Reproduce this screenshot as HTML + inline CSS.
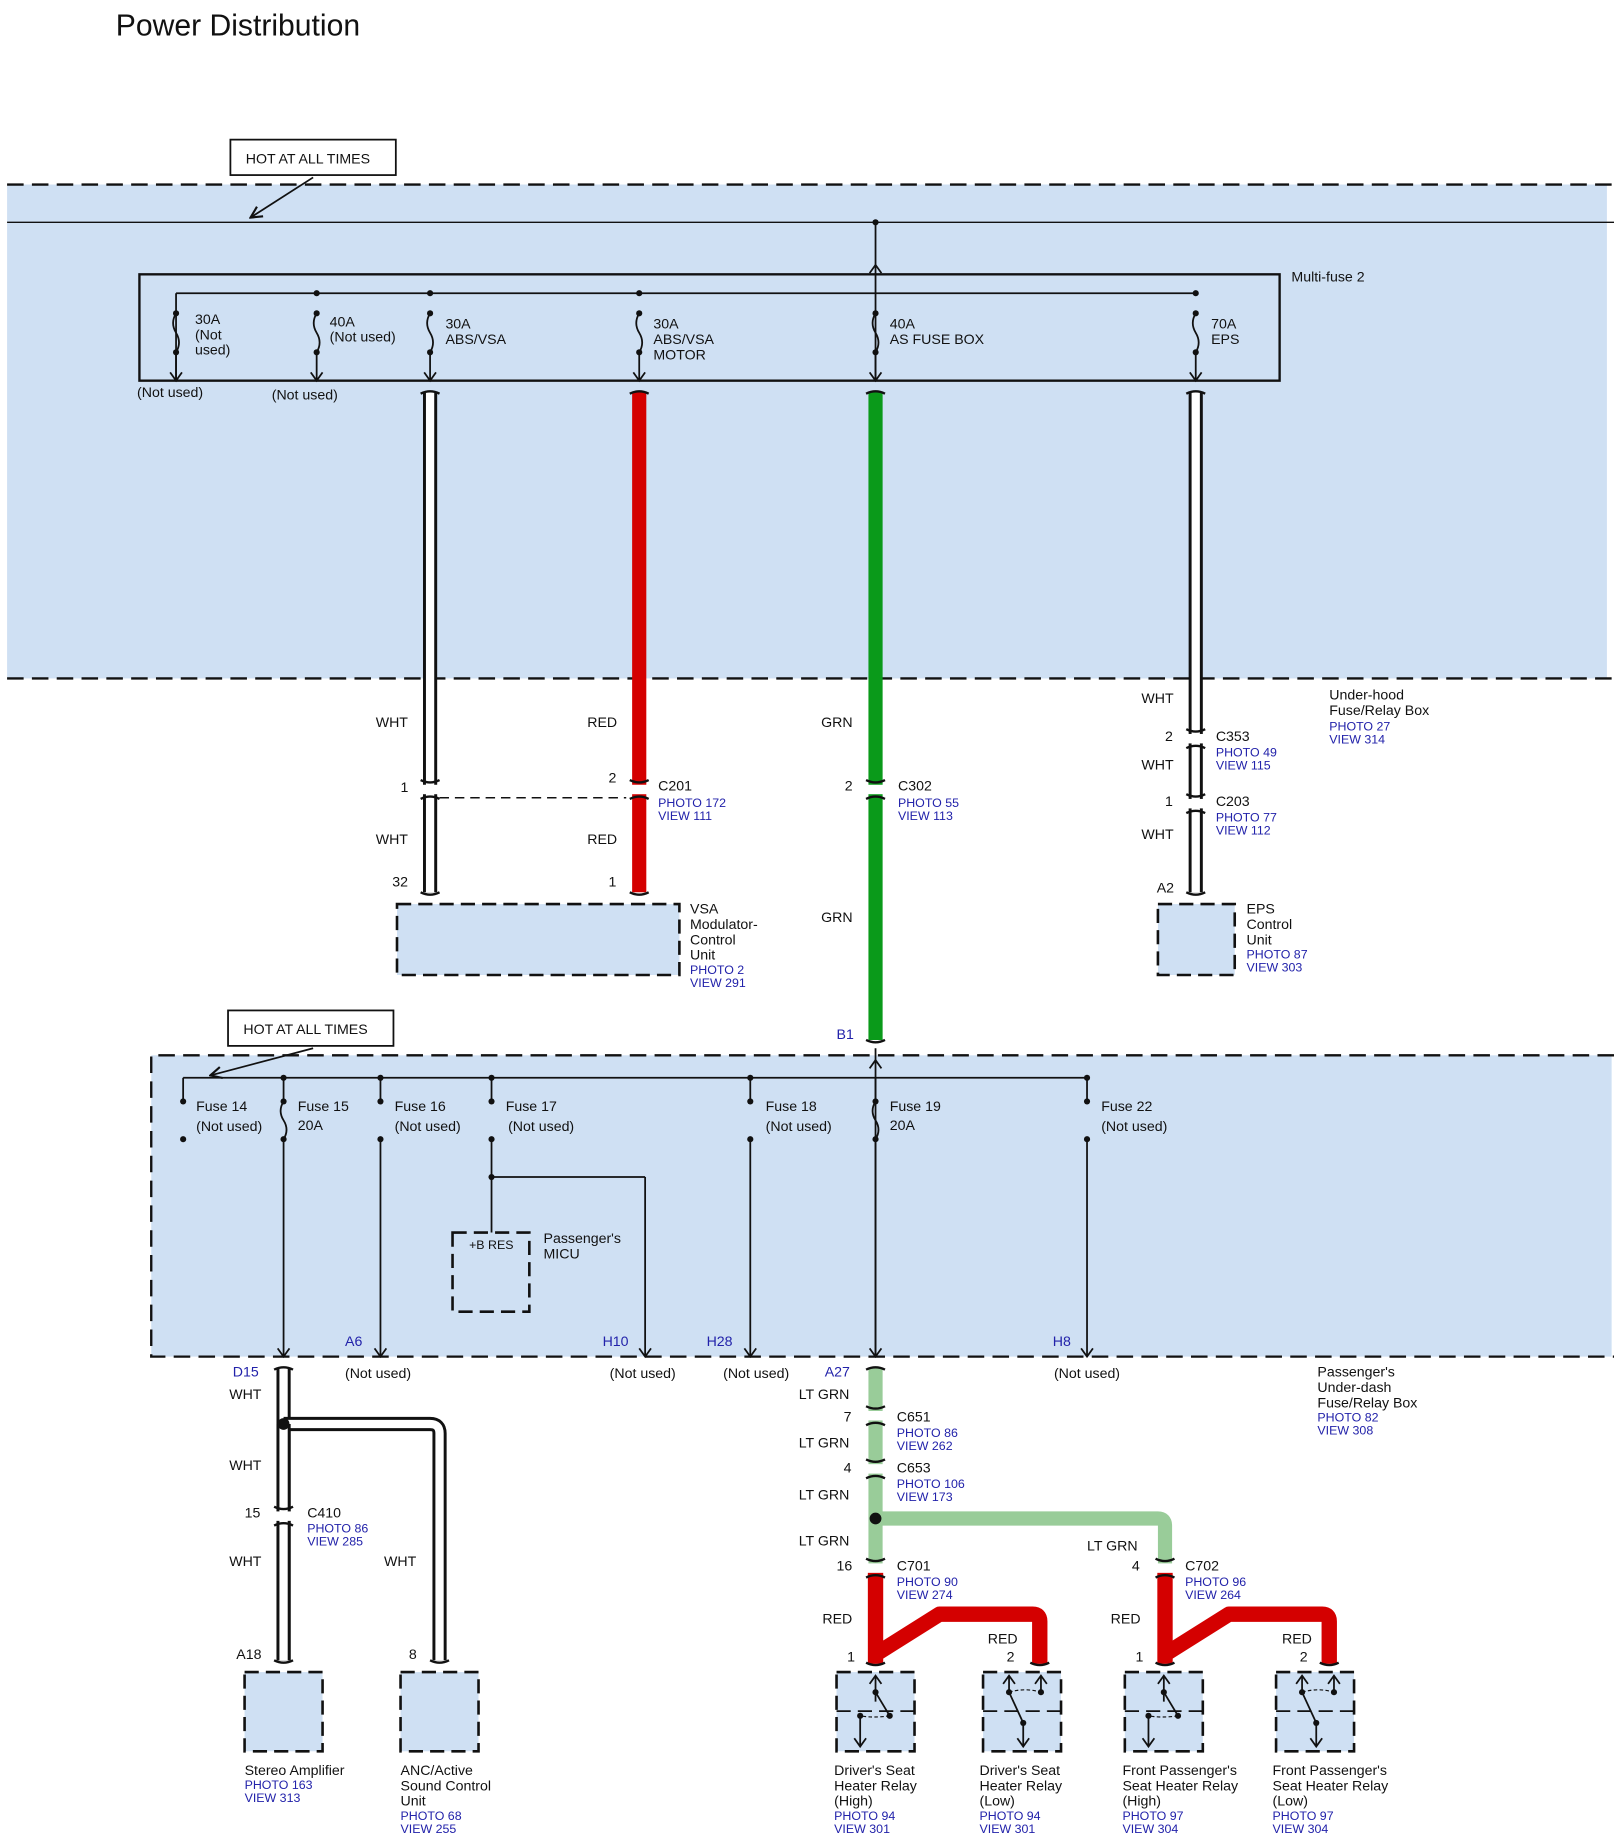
<!DOCTYPE html>
<html><head><meta charset="utf-8"><style>
html,body{margin:0;padding:0;background:#fff;}
svg{display:block;}
text{font-family:"Liberation Sans",Arial,sans-serif;font-size:12px;fill:#111;}
.b{fill:#2222aa;font-size:10.5px;}
.bl{fill:#2222aa;}
</style></head><body>
<svg id="s" width="1614" height="1846" viewBox="0 0 1366 1562" xmlns="http://www.w3.org/2000/svg">
<defs>
<marker id="ar" viewBox="0 0 10 10" refX="9" refY="5" markerWidth="8" markerHeight="8" orient="auto"><path d="M1 1 L9 5 L1 9" fill="none" stroke="#111" stroke-width="1.5"/></marker>
</defs>
<g id="bg">
<rect x="6" y="156" width="1354" height="418" fill="#cfe0f3"/>
<line x1="6" y1="156" x2="1366" y2="156" stroke="#111" stroke-width="2" stroke-dasharray="14,7"/>
<line x1="6" y1="574" x2="1366" y2="574" stroke="#111" stroke-width="2" stroke-dasharray="14,7"/>
<line x1="6" y1="188" x2="1366" y2="188" stroke="#111" stroke-width="1.2"/>
<rect x="128" y="893" width="1236" height="255" fill="#cfe0f3"/>
<path d="M1366 893 H128 V1148 H1366" fill="none" stroke="#111" stroke-width="2" stroke-dasharray="14,7"/>
<rect x="118" y="232" width="965" height="90" fill="none" stroke="#111" stroke-width="2"/>
</g>
<g id="g"></g>
<text x="98" y="30" style="font-size:25.5px">Power Distribution</text>
<rect x="195" y="118" width="140" height="30" fill="#fff" stroke="#111" stroke-width="1.5"/>
<text x="208" y="138">HOT AT ALL TIMES</text>
<rect x="193" y="855" width="140" height="30" fill="#fff" stroke="#111" stroke-width="1.5"/>
<text x="206" y="875">HOT AT ALL TIMES</text>
<text x="1093" y="238">Multi-fuse 2</text>
<text x="165" y="274">30A</text><text x="165" y="287">(Not</text><text x="165" y="300">used)</text>
<text x="279" y="276">40A</text><text x="279" y="289">(Not used)</text>
<text x="377" y="278">30A</text><text x="377" y="291">ABS/VSA</text>
<text x="553" y="278">30A</text><text x="553" y="291">ABS/VSA</text><text x="553" y="304">MOTOR</text>
<text x="753" y="278">40A</text><text x="753" y="291">AS FUSE BOX</text>
<text x="1025" y="278">70A</text><text x="1025" y="291">EPS</text>
<text x="116" y="336">(Not used)</text><text x="230" y="338">(Not used)</text>
<text x="318" y="615">WHT</text><text x="497" y="615">RED</text><text x="695" y="615">GRN</text>
<text x="966" y="595">WHT</text>
<text x="1125" y="592">Under-hood</text><text x="1125" y="605">Fuse/Relay Box</text>
<text x="1125" y="618" class="b">PHOTO 27</text><text x="1125" y="629" class="b">VIEW 314</text>
<text x="339" y="670">1</text><text x="515" y="662">2</text>
<text x="557" y="669">C201</text><text x="557" y="683" class="b">PHOTO 172</text><text x="557" y="694" class="b">VIEW 111</text>
<text x="715" y="669">2</text>
<text x="760" y="669">C302</text><text x="760" y="683" class="b">PHOTO 55</text><text x="760" y="694" class="b">VIEW 113</text>
<text x="986" y="627">2</text>
<text x="1029" y="627">C353</text><text x="1029" y="640" class="b">PHOTO 49</text><text x="1029" y="651" class="b">VIEW 115</text>
<text x="966" y="651">WHT</text>
<text x="986" y="682">1</text>
<text x="1029" y="682">C203</text><text x="1029" y="695" class="b">PHOTO 77</text><text x="1029" y="706" class="b">VIEW 112</text>
<text x="966" y="710">WHT</text>
<text x="318" y="714">WHT</text><text x="497" y="714">RED</text>
<text x="332" y="750">32</text><text x="515" y="750">1</text>
<text x="979" y="755">A2</text>
<text x="695" y="780">GRN</text>
<text x="584" y="773">VSA</text><text x="584" y="786">Modulator-</text><text x="584" y="799">Control</text><text x="584" y="812">Unit</text>
<text x="584" y="824" class="b">PHOTO 2</text><text x="584" y="835" class="b">VIEW 291</text>
<text x="1055" y="773">EPS</text><text x="1055" y="786">Control</text><text x="1055" y="799">Unit</text>
<text x="1055" y="811" class="b">PHOTO 87</text><text x="1055" y="822" class="b">VIEW 303</text>
<text x="708" y="879" class="bl">B1</text>
<text x="166" y="940">Fuse 14</text><text x="166" y="957">(Not used)</text>
<text x="252" y="940">Fuse 15</text><text x="252" y="956">20A</text>
<text x="334" y="940">Fuse 16</text><text x="334" y="957">(Not used)</text>
<text x="428" y="940">Fuse 17</text><text x="430" y="957">(Not used)</text>
<text x="648" y="940">Fuse 18</text><text x="648" y="957">(Not used)</text>
<text x="753" y="940">Fuse 19</text><text x="753" y="956">20A</text>
<text x="932" y="940">Fuse 22</text><text x="932" y="957">(Not used)</text>
<text x="397" y="1057" style="font-size:10.5px">+B RES</text>
<text x="460" y="1052">Passenger's</text><text x="460" y="1065">MICU</text>
<text x="292" y="1139" class="bl">A6</text><text x="510" y="1139" class="bl">H10</text><text x="598" y="1139" class="bl">H28</text><text x="891" y="1139" class="bl">H8</text>
<text x="197" y="1165" class="bl">D15</text><text x="698" y="1165" class="bl">A27</text>
<text x="292" y="1166">(Not used)</text><text x="516" y="1166">(Not used)</text><text x="612" y="1166">(Not used)</text><text x="892" y="1166">(Not used)</text>
<text x="1115" y="1165">Passenger's</text><text x="1115" y="1178">Under-dash</text><text x="1115" y="1191">Fuse/Relay Box</text>
<text x="1115" y="1203" class="b">PHOTO 82</text><text x="1115" y="1214" class="b">VIEW 308</text>
<text x="194" y="1184">WHT</text><text x="194" y="1244">WHT</text>
<text x="207" y="1284">15</text>
<text x="260" y="1284">C410</text><text x="260" y="1297" class="b">PHOTO 86</text><text x="260" y="1308" class="b">VIEW 285</text>
<text x="194" y="1325">WHT</text><text x="325" y="1325">WHT</text>
<text x="200" y="1404">A18</text><text x="346" y="1404">8</text>
<text x="676" y="1184">LT GRN</text>
<text x="714" y="1203">7</text>
<text x="759" y="1203">C651</text><text x="759" y="1216" class="b">PHOTO 86</text><text x="759" y="1227" class="b">VIEW 262</text>
<text x="676" y="1225">LT GRN</text>
<text x="714" y="1246">4</text>
<text x="759" y="1246">C653</text><text x="759" y="1259" class="b">PHOTO 106</text><text x="759" y="1270" class="b">VIEW 173</text>
<text x="676" y="1269">LT GRN</text>
<text x="676" y="1308">LT GRN</text><text x="920" y="1312">LT GRN</text>
<text x="708" y="1329">16</text>
<text x="759" y="1329">C701</text><text x="759" y="1342" class="b">PHOTO 90</text><text x="759" y="1353" class="b">VIEW 274</text>
<text x="958" y="1329">4</text>
<text x="1003" y="1329">C702</text><text x="1003" y="1342" class="b">PHOTO 96</text><text x="1003" y="1353" class="b">VIEW 264</text>
<text x="696" y="1374">RED</text><text x="940" y="1374">RED</text>
<text x="836" y="1391">RED</text><text x="1085" y="1391">RED</text>
<text x="717" y="1406">1</text><text x="852" y="1406">2</text><text x="961" y="1406">1</text><text x="1100" y="1406">2</text>
<text x="207" y="1502">Stereo Amplifier</text><text x="207" y="1514" class="b">PHOTO 163</text><text x="207" y="1525" class="b">VIEW 313</text>
<text x="339" y="1502">ANC/Active</text><text x="339" y="1515">Sound Control</text><text x="339" y="1528">Unit</text>
<text x="339" y="1540" class="b">PHOTO 68</text><text x="339" y="1551" class="b">VIEW 255</text>
<text x="706" y="1502">Driver's Seat</text><text x="706" y="1515">Heater Relay</text><text x="706" y="1528">(High)</text>
<text x="706" y="1540" class="b">PHOTO 94</text><text x="706" y="1551" class="b">VIEW 301</text>
<text x="829" y="1502">Driver's Seat</text><text x="829" y="1515">Heater Relay</text><text x="829" y="1528">(Low)</text>
<text x="829" y="1540" class="b">PHOTO 94</text><text x="829" y="1551" class="b">VIEW 301</text>
<text x="950" y="1502">Front Passenger's</text><text x="950" y="1515">Seat Heater Relay</text><text x="950" y="1528">(High)</text>
<text x="950" y="1540" class="b">PHOTO 97</text><text x="950" y="1551" class="b">VIEW 304</text>
<text x="1077" y="1502">Front Passenger's</text><text x="1077" y="1515">Seat Heater Relay</text><text x="1077" y="1528">(Low)</text>
<text x="1077" y="1540" class="b">PHOTO 97</text><text x="1077" y="1551" class="b">VIEW 304</text>
</svg>
<script>
var g=document.getElementById('g'),NS='http://www.w3.org/2000/svg';
function el(t,a){var e=document.createElementNS(NS,t);for(var k in a)e.setAttribute(k,a[k]);g.appendChild(e);return e;}
function ln(x1,y1,x2,y2,w,c,extra){var o={x1:x1,y1:y1,x2:x2,y2:y2,stroke:c||'#111','stroke-width':w||1.5};for(var k in extra)o[k]=extra[k];return el('line',o);}
function pth(d,w,c,extra){var o={d:d,fill:'none',stroke:c||'#111','stroke-width':w||1.5};for(var k in extra)o[k]=extra[k];return el('path',o);}
function dot(x,y,r){el('circle',{cx:x,cy:y,r:r||2.6,fill:'#111'});}
function arrowDown(x,y){pth('M'+(x-5)+' '+(y-7)+' L'+x+' '+y+' L'+(x+5)+' '+(y-7),1.5);}
function arrowUp(x,y){pth('M'+(x-5)+' '+(y+7)+' L'+x+' '+y+' L'+(x+5)+' '+(y+7),1.5);}
function fuse(x,y1,y2){dot(x,y1);dot(x,y2);var m=(y1+y2)/2;pth('M'+x+' '+y1+' q-5 '+((m-y1)/2)+' 0 '+(m-y1)+' q5 '+((y2-m)/2)+' 0 '+(y2-m),1.5);}
function dwire(d){pth(d,12,'#111',{'stroke-linejoin':'round'});pth(d,7,'#fff',{'stroke-linejoin':'round'});}
function cwire(d,c,w){pth(d,w||12,c,{'stroke-linejoin':'round'});}
function cap(x,y,dir){pth('M'+(x-8)+' '+(y+dir*3)+' Q'+x+' '+(y-dir*1)+' '+(x+8)+' '+(y+dir*3),2);}
function conn(x,y){el('rect',{x:x-9,y:y-4,width:18,height:8,fill:'#fff'});cap(x,y-5,-1);cap(x,y+5,1);}
function dbox(x,y,w,h){el('rect',{x:x,y:y,width:w,height:h,fill:'#cfe0f3',stroke:'#111','stroke-width':2.2,'stroke-dasharray':'12,6'});}
pth('M265 150 L212 184',1.5,'#111',{'marker-end':'url(#ar)'});
dot(741,188);ln(741,188,741,322);arrowUp(741,224);
ln(149,248,1012,248);ln(149,248,149,322);
[149,268,364,541,741,1012].forEach(function(x){if(x!=149&&x!=741)dot(x,248);fuse(x,265,298);ln(x,298,x,322);arrowDown(x,322);});
dwire('M364 332 V755');cap(364,330,1);
cwire('M541 332 V755','#d40000');cap(541,330,1);
cwire('M741 332 V880','#0a9a1a');cap(741,330,1);
dwire('M1012 332 V755');cap(1012,330,1);
conn(364,668);conn(541,668);conn(741,668);conn(1012,625);conn(1012,680);
pth('M372 675 H530',1.3,'#111',{'stroke-dasharray':'8,5'});
cap(364,758,-1);cap(541,758,-1);cap(1012,758,-1);cap(741,883,-1);
dbox(336,765,239,60);dbox(980,765,65,60);
pth('M265 887 L178 910',1.5,'#111',{'marker-end':'url(#ar)'});
ln(155,912,920,912);ln(155,912,155,932);dot(155,932);dot(155,964);
[240,322,416,635,920].forEach(function(x){dot(x,912);});
ln(741,887,741,1148);arrowUp(741,897);
fuse(240,932,964);fuse(741,932,964);
[322,416,635,920].forEach(function(x){ln(x,912,x,932);dot(x,932);dot(x,964);});
[240,322,635,741,920].forEach(function(x){ln(x,964,x,1148);arrowDown(x,1148);});
ln(240,932,240,912);ln(741,932,741,912);
ln(416,964,416,1043);dot(416,996);ln(416,996,546,996);ln(546,996,546,1148);arrowDown(546,1148);
dbox(383,1043,65,67);
dwire('M240 1158 V1405');cap(240,1156,1);
dwire('M240 1205 H364 Q372 1205 372 1213 V1405');
dwire('M240 1205 V1405');
el('circle',{cx:240,cy:1205,r:5,fill:'#111'});
conn(240,1283);cap(240,1408,-1);cap(372,1408,-1);
dbox(207,1415,66,67);dbox(339,1415,66,67);
var lg='#99cc99';
cwire('M741 1158 V1325',lg);cap(741,1156,1);
cwire('M741 1285 H980 Q986 1285 986 1291 V1325',lg);
el('circle',{cx:741,cy:1285,r:5,fill:'#111'});
conn(741,1198);conn(741,1243);
var rd='#d40000';
cwire('M741 1330 V1408 M741 1400 L795 1366 H874 Q880 1366 880 1372 V1408',rd,13);
cwire('M986 1330 V1408 M986 1400 L1040 1366 H1119 Q1125 1366 1125 1372 V1408',rd,13);
conn(741,1327);conn(986,1327);
[741,880,986,1125].forEach(function(x){cap(x,1410,-1);});
function relay(x,high){dbox(x,1415,66,67);
 ln(x,1448,x+66,1448,1.5,'#111',{'stroke-dasharray':'12,6'});
 if(high){var a=x+33;ln(a,1440,a,1418);arrowUp(a,1418);dot(a,1432);ln(a,1432,a+12,1452);dot(a+12,1452);
  pth('M'+(a+12)+' 1452 Q'+(a-2)+' 1454 '+(a-13)+' 1452',1,'#111',{'stroke-dasharray':'3,2'});dot(a-13,1452);ln(a-13,1452,a-13,1478);arrowDown(a-13,1478);}
 else{var a=x+22,b=x+49;ln(a,1418,a,1432);arrowUp(a,1418);ln(b,1418,b,1432);arrowUp(b,1418);dot(a,1432);dot(b,1432);
  pth('M'+a+' 1432 Q'+(a+14)+' 1428 '+b+' 1432',1,'#111',{'stroke-dasharray':'3,2'});ln(a,1432,a+12,1458);dot(a+12,1458);ln(a+12,1458,a+12,1478);arrowDown(a+12,1478);}
}
relay(708,true);relay(832,false);relay(952,true);relay(1080,false);
</script>
</body></html>
